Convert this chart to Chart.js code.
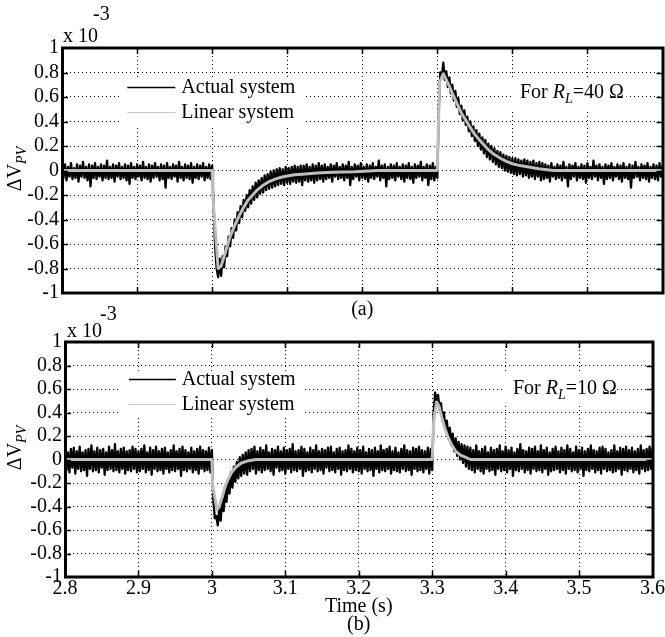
<!DOCTYPE html>
<html><head><meta charset="utf-8">
<script src="https://cdn.jsdelivr.net/npm/chart.js@4.4.1/dist/chart.umd.min.js"></script>
<style>
html,body{margin:0;padding:0;background:#fff;width:665px;height:637px;overflow:hidden;}
.p{position:absolute;left:0;width:665px;}
canvas{display:block;}
</style></head><body>
<div class="p" style="top:0;height:320px"><canvas id="ca" width="665" height="320"></canvas></div>
<div class="p" style="top:295px;height:342px"><canvas id="cb" width="665" height="342"></canvas></div>
<script>
// ---------- data (values in units of 1e-3) ----------
const seriesNames = ['Actual system', 'Linear system'];
const sampleStart = 2.8, sampleStep = 0.002;   // time grid of the measured (actual) traces

// panel (a), R_L = 40 ohm, actual system
const actualA = [
 0.04,-0.06,0.05,-0.08,0.03,-0.05,0.06,-0.07,0.02,-0.06,
 0.05,-0.09,0.04,-0.05,0.07,-0.06,0.03,-0.08,0.05,-0.13,
 0.04,-0.06,0.06,-0.07,0.03,-0.05,0.05,-0.08,0.04,-0.06,
 0.08,-0.07,0.03,-0.06,0.05,-0.09,0.04,-0.05,0.06,-0.07,
 0.03,-0.06,0.05,-0.08,0.04,-0.11,0.06,-0.06,0.03,-0.07,
 0.05,-0.05,0.04,-0.08,0.07,-0.06,0.03,-0.07,0.05,-0.09,
 0.04,-0.06,0.06,-0.05,0.03,-0.08,0.05,-0.07,0.04,-0.14,
 0.06,-0.06,0.03,-0.07,0.05,-0.05,0.04,-0.09,0.07,-0.06,
 0.03,-0.08,0.05,-0.06,0.04,-0.07,0.06,-0.10,0.03,-0.06,
 0.05,-0.07,0.04,-0.05,0.06,-0.08,0.03,-0.06,0.05,-0.07,
 0.04,
 -0.30,-0.62,-0.80,-0.87,-0.72,-0.86,-0.70,-0.79,-0.62,-0.70,
 -0.54,-0.62,-0.47,-0.55,-0.40,-0.49,-0.34,-0.43,-0.29,-0.38,
 -0.24,-0.33,-0.20,-0.30,-0.16,-0.27,-0.13,-0.24,-0.10,-0.22,
 -0.08,-0.19,-0.06,-0.18,-0.04,-0.16,-0.03,-0.15,-0.01,-0.14,
 0.00,-0.13,0.01,-0.12,0.02,-0.11,0.01,-0.12,0.03,-0.10,
 0.02,-0.11,0.03,-0.09,0.04,-0.10,0.03,-0.09,0.04,-0.12,
 0.04,-0.08,0.05,-0.09,0.03,-0.08,0.05,-0.10,0.04,-0.08,
 0.06,-0.07,0.04,-0.09,0.05,
 -0.07,0.03,-0.06,0.05,-0.09,0.04,-0.05,0.06,-0.07,0.03,
 -0.06,0.05,-0.08,0.04,-0.06,0.07,-0.12,0.03,-0.07,0.05,
 -0.05,0.04,-0.08,0.06,-0.06,0.03,-0.07,0.05,-0.09,0.04,
 -0.06,0.06,-0.07,0.03,-0.05,0.08,-0.08,0.04,-0.06,0.05,
 -0.13,0.03,-0.07,0.05,-0.06,0.04,-0.08,0.06,-0.05,0.03,
 -0.07,0.05,-0.09,0.04,-0.06,0.06,-0.07,0.03,-0.10,0.05,
 -0.06,0.04,-0.05,0.07,-0.08,0.03,-0.06,0.05,-0.12,0.04,
 -0.07,0.06,-0.08,0.03,
 -0.06,
 0.50,0.80,0.76,0.88,0.74,0.81,0.68,0.76,0.63,0.70,
 0.57,0.65,0.52,0.59,0.46,0.53,0.41,0.49,0.37,0.44,
 0.32,0.40,0.28,0.36,0.24,0.33,0.20,0.30,0.17,0.27,
 0.14,0.25,0.11,0.22,0.09,0.20,0.07,0.18,0.05,0.16,
 0.03,0.15,0.02,0.13,0.00,0.12,-0.01,0.11,-0.02,0.10,
 -0.03,0.10,-0.04,0.09,-0.03,0.08,-0.05,0.09,-0.04,0.08,
 -0.06,0.07,-0.05,0.08,-0.07,0.06,-0.05,0.07,-0.08,0.06,
 -0.07,0.05,-0.06,0.04,-0.09,0.06,-0.05,0.03,-0.07,0.05,
 -0.06,0.04,-0.08,0.07,-0.06,0.03,-0.13,0.05,-0.07,0.04,
 -0.05,0.06,-0.08,0.03,-0.06,0.05,-0.07,0.04,-0.10,0.06,
 -0.06,0.03,-0.07,0.08,-0.05,0.04,-0.08,0.05,-0.06,0.03,
 -0.11,0.05,-0.07,0.04,-0.06,0.06,-0.08,0.03,-0.05,0.05,
 -0.07,0.04,-0.09,0.06,-0.06,0.03,-0.07,0.05,-0.14,0.04,
 -0.06,0.07,-0.05,0.03,-0.08,0.05,-0.06,0.04,-0.07,0.06,
 -0.09,0.03,-0.06,0.05,-0.07,0.04,-0.08,0.06,-0.05,0.04];
// panel (a), linear system
const linearATime = [2.8,3.0,3.001,3.008,3.012,3.016,3.02,3.024,3.03,3.036,3.042,3.048,3.054,3.06,3.068,3.076,3.084,3.092,3.1,3.11,3.12,3.14,3.16,3.19,3.22,3.3,3.303,3.308,3.312,3.316,3.32,3.326,3.332,3.338,3.344,3.35,3.356,3.362,3.368,3.376,3.384,3.392,3.4,3.41,3.42,3.435,3.455,3.6];
const linearAValue = [0,0,-0.22,-0.80,-0.78,-0.70,-0.62,-0.54,-0.45,-0.37,-0.30,-0.24,-0.20,-0.16,-0.12,-0.09,-0.07,-0.055,-0.045,-0.035,-0.03,-0.02,-0.015,-0.01,0,0,0.72,0.79,0.74,0.69,0.63,0.55,0.47,0.41,0.35,0.295,0.25,0.21,0.17,0.13,0.10,0.075,0.055,0.04,0.03,0.015,0,0];

// panel (b), R_L = 10 ohm, actual system
const actualB = [
 0.08,-0.09,0.06,-0.11,0.09,-0.07,0.10,-0.12,0.07,-0.08,
 0.11,-0.10,0.06,-0.09,0.08,-0.14,0.09,-0.08,0.12,-0.10,
 0.07,-0.09,0.10,-0.11,0.08,-0.07,0.09,-0.13,0.06,-0.09,
 0.11,-0.08,0.08,-0.10,0.13,-0.09,0.07,-0.11,0.09,-0.08,
 0.10,-0.12,0.07,-0.09,0.08,-0.10,0.11,-0.08,0.09,-0.11,
 0.07,-0.10,0.09,-0.08,0.12,-0.11,0.06,-0.09,0.10,-0.13,
 0.08,-0.08,0.11,-0.10,0.07,-0.09,0.09,-0.12,0.10,-0.08,
 0.06,-0.11,0.08,-0.09,0.12,-0.10,0.07,-0.08,0.09,-0.14,
 0.11,-0.09,0.08,-0.10,0.06,-0.08,0.10,-0.11,0.07,-0.09,
 0.09,-0.12,0.11,-0.08,0.08,-0.10,0.07,-0.09,0.10,-0.11,
 0.08,
 -0.35,-0.50,-0.48,-0.56,-0.42,-0.52,-0.33,-0.44,-0.24,-0.36,
 -0.17,-0.29,-0.11,-0.24,-0.06,-0.19,-0.02,-0.16,0.02,-0.14,
 0.04,-0.12,0.06,-0.13,0.08,
 -0.10,0.09,-0.08,0.11,-0.12,0.07,-0.09,0.10,-0.11,0.08,
 -0.09,0.12,-0.08,0.06,-0.10,0.09,-0.13,0.08,-0.07,0.11,
 -0.10,0.07,-0.09,0.10,-0.12,0.08,-0.08,0.09,-0.11,0.13,
 -0.09,0.07,-0.10,0.08,-0.08,0.11,-0.14,0.09,-0.10,0.06,
 -0.09,0.10,-0.11,0.08,-0.08,0.12,-0.10,0.07,-0.09,0.09,
 -0.12,0.08,-0.07,0.10,-0.10,0.11,-0.09,0.06,-0.11,0.09,
 -0.08,0.10,-0.13,0.07,-0.09,0.08,-0.10,0.12,-0.08,0.09,
 -0.11,0.07,-0.09,0.10,-0.10,0.08,-0.12,0.11,-0.08,0.06,
 -0.10,0.09,-0.09,0.08,-0.14,0.10,-0.08,0.07,-0.11,0.12,
 -0.09,0.08,-0.10,0.09,-0.08,0.11,-0.12,0.07,-0.09,0.10,
 -0.10,0.06,-0.11,0.09,-0.08,0.12,-0.10,0.08,-0.09,0.07,
 -0.13,0.10,-0.08,0.09,-0.10,0.11,-0.09,0.08,-0.11,0.07,
 -0.08,0.10,-0.12,0.09,
 -0.09,
 0.40,0.57,0.47,0.55,0.42,0.48,0.33,0.40,0.25,0.33,
 0.18,0.27,0.12,0.22,0.07,0.18,0.03,0.15,0.00,0.13,
 -0.03,0.12,-0.06,0.11,-0.08,
 0.10,-0.09,0.08,-0.11,0.12,-0.08,0.07,-0.10,0.09,-0.12,
 0.11,-0.08,0.06,-0.10,0.10,-0.09,0.08,-0.13,0.09,-0.08,
 0.12,-0.10,0.07,-0.09,0.11,-0.11,0.08,-0.08,0.10,-0.14,
 0.06,-0.09,0.09,-0.10,0.13,-0.08,0.08,-0.11,0.07,-0.09,
 0.10,-0.12,0.09,-0.08,0.11,-0.10,0.07,-0.09,0.12,-0.11,
 0.08,-0.08,0.10,-0.13,0.06,-0.10,0.09,-0.09,0.11,-0.08,
 0.07,-0.11,0.10,-0.09,0.08,-0.12,0.12,-0.08,0.09,-0.10,
 0.06,-0.09,0.11,-0.11,0.08,-0.08,0.10,-0.14,0.07,-0.09,
 0.09,-0.10,0.12,-0.08,0.08,-0.11,0.07,-0.09,0.10,-0.12,
 0.11,-0.08,0.09,-0.10,0.06,-0.09,0.08,-0.11,0.12,-0.10,
 0.07,-0.08,0.10,-0.13,0.09,-0.09,0.11,-0.10,0.08,-0.08,
 0.10,-0.11,0.07,-0.09,0.09,-0.12,0.12,-0.08,0.08,-0.10,
 0.09,-0.09,0.11,-0.08,0.10];
// panel (b), linear system
const linearBTime = [2.8,3.0,3.001,3.007,3.01,3.014,3.018,3.022,3.027,3.032,3.04,3.05,3.06,3.3,3.302,3.306,3.309,3.313,3.317,3.321,3.326,3.332,3.338,3.345,3.352,3.6];
const linearBValue = [0,0,-0.22,-0.43,-0.40,-0.32,-0.23,-0.17,-0.11,-0.07,-0.03,-0.01,0,0,0.33,0.49,0.46,0.36,0.27,0.20,0.13,0.07,0.04,0.02,0,0];

// tick labels and texts
const yTickLabels = ['-1','-0.8','-0.6','-0.4','-0.2','0','0.2','0.4','0.6','0.8','1'];
const xTickLabels = ['2.8','2.9','3','3.1','3.2','3.3','3.4','3.5','3.6'];
const panelResistance = ['40', '10'];
const panelCaption = ['(a)', '(b)'];
const xAxisTitle = 'Time (s)';
const yTitleMain = 'ΔV', yTitleSub = 'PV';
const expBase = 'x 10', expPower = '-3';

// ---------- rendering ----------
const FONT = '"Liberation Serif", "Times New Roman", serif';
const pts = (vals) => vals.map((v, i) => ({x: +(sampleStart + sampleStep * i).toFixed(4), y: v}));
const pairs = (ts, vs) => ts.map((t, i) => ({x: t, y: vs[i]}));

const decor = {
  id: 'decor',
  afterDatasetsDraw(chart, args, o) {
    const ctx = chart.ctx, a = chart.chartArea, xs = chart.scales.x, ys = chart.scales.y;
    const X = v => xs.getPixelForValue(v), Y = v => ys.getPixelForValue(v);
    ctx.save();
    ctx.textAlign = 'left'; ctx.textBaseline = 'alphabetic';
    // legend (white box, samples and labels)
    const lb = o.legendBox;
    ctx.fillStyle = '#fff';
    ctx.fillRect(X(lb[0]), Y(lb[3]), X(lb[1]) - X(lb[0]), Y(lb[2]) - Y(lb[3]));
    o.legendRows.forEach((yv, k) => {
      const by = Math.round(Y(yv));
      ctx.strokeStyle = o.sampleColors[k]; ctx.lineWidth = o.sampleWidths[k];
      ctx.beginPath(); ctx.moveTo(X(o.sampleX[0]), by - 5.5); ctx.lineTo(X(o.sampleX[1]), by - 5.5); ctx.stroke();
      ctx.fillStyle = '#000'; ctx.font = '20px ' + FONT;
      ctx.fillText(chart.data.datasets[k].label, X(o.textX), by);
    });
    // note "For R_L = .. Ω"
    const nb = o.noteBox;
    ctx.fillStyle = '#fff';
    ctx.fillRect(X(nb[0]), Y(nb[3]), X(nb[1]) - X(nb[0]), Y(nb[2]) - Y(nb[3]));
    let nx = X(o.noteX); const ny = Math.round(Y(o.noteY));
    const parts = [['For ', '20px ', 0], ['R', 'italic 20px ', 0], ['L', 'italic 14px ', 5], ['=' + o.res + ' Ω', '20px ', 0]];
    ctx.fillStyle = '#000';
    parts.forEach(p => { ctx.font = p[1] + FONT; ctx.fillText(p[0], nx, ny + p[2]); nx += ctx.measureText(p[0]).width; });
    // frame
    ctx.strokeStyle = '#000'; ctx.lineWidth = 3;
    ctx.strokeRect(a.left + 0.5, a.top, a.right - a.left, a.bottom - a.top);
    // inner ticks on all four sides
    ctx.lineWidth = 1.5;
    xs.ticks.forEach(t => {
      if (t.value <= xs.min + 1e-9 || t.value >= xs.max - 1e-9) return;
      const px = Math.round(X(t.value)) + 0.5;
      ctx.beginPath(); ctx.moveTo(px, a.top); ctx.lineTo(px, a.top + 6);
      ctx.moveTo(px, a.bottom); ctx.lineTo(px, a.bottom - 6); ctx.stroke();
    });
    ys.ticks.forEach(t => {
      if (t.value <= ys.min + 1e-9 || t.value >= ys.max - 1e-9) return;
      const py = Math.round(Y(t.value)) + 0.5;
      ctx.beginPath(); ctx.moveTo(a.left, py); ctx.lineTo(a.left + 6, py);
      ctx.moveTo(a.right, py); ctx.lineTo(a.right - 6, py); ctx.stroke();
    });
    // exponent label "x 10^-3"
    ctx.font = '20px ' + FONT; ctx.fillStyle = '#000';
    ctx.fillText(expBase, o.expX, a.top + o.expDy);
    ctx.fillText(expPower, o.powX, a.top + o.powDy);
    // y-axis title ΔV_PV (rotated)
    ctx.save();
    ctx.translate(o.yTitleX, a.top + o.yTitleDy);
    ctx.rotate(-Math.PI / 2);
    ctx.font = '20px ' + FONT; const w1 = ctx.measureText(yTitleMain).width;
    ctx.font = 'italic 14px ' + FONT; const w2 = ctx.measureText(yTitleSub).width;
    const x0 = -(w1 + w2) / 2;
    ctx.font = '20px ' + FONT; ctx.fillText(yTitleMain, x0, 0);
    ctx.font = 'italic 14px ' + FONT; ctx.fillText(yTitleSub, x0 + w1, 5);
    ctx.restore();
    ctx.restore();
  }
};

function makeChart(id, actual, linT, linV, p) {
  return new Chart(document.getElementById(id), {
    type: 'line',
    data: {
      datasets: [
        {label: seriesNames[0], data: pts(actual), borderColor: '#000', borderWidth: 2.3,
         pointRadius: 0, tension: 0, borderJoinStyle: 'round', order: 2},
        {label: seriesNames[1], data: pairs(linT, linV), borderColor: '#bdbdbd', borderWidth: 3,
         pointRadius: 0, tension: 0, borderJoinStyle: 'round', order: 1}
      ]
    },
    options: {
      responsive: false, animation: false, events: [],
      layout: {padding: {top: p.padTop, right: p.padRight, left: 0, bottom: 0}},
      plugins: {legend: {display: false}, tooltip: {enabled: false}, decor: p.decor},
      scales: {
        x: {
          type: 'linear', min: 2.8, max: 3.6,
          afterFit: s => { s.height = p.xHeight; },
          ticks: {stepSize: 0.1, display: p.showX, autoSkip: false, color: '#000', padding: p.xTickPad, maxRotation: 0,
                  font: {family: FONT, size: 20},
                  callback: v => xTickLabels[Math.round((v - 2.8) / 0.1)]},
          grid: {color: '#000', lineWidth: 1, drawTicks: false},
          border: {display: false, dash: [1, 3]},
          title: {display: true, text: p.xTitle, color: '#000',
                  font: {family: FONT, size: 20, lineHeight: 0.9}, padding: {top: 0, bottom: p.titlePadB}}
        },
        y: {
          min: -1, max: 1,
          afterFit: s => { s.width = p.yWidth; },
          ticks: {stepSize: 0.2, autoSkip: false, color: '#000', padding: 3, font: {family: FONT, size: 20},
                  callback: v => yTickLabels[Math.round((v + 1) / 0.2)]},
          grid: {color: '#000', lineWidth: 1, drawTicks: false},
          border: {display: false, dash: [1, 3]}
        }
      }
    },
    plugins: [decor]
  });
}

const common = {
  legendBox: [2.876, 3.124, 0.37, 0.755], legendRows: [0.63, 0.425],
  sampleX: [2.887, 2.951], textX: 2.959,
  sampleColors: ['#000', '#c8c8c8'], sampleWidths: [1.5, 1.2],
  noteX: 3.41, yTitleX: 21
};

makeChart('ca', actualA, linearATime, linearAValue, {
  padTop: 48, padRight: 2.5, xHeight: 27, yWidth: 62, showX: false, xTickPad: 0,
  xTitle: panelCaption[0], titlePadB: 1,
  decor: Object.assign({}, common, {res: panelResistance[0], noteBox: [3.399, 3.552, 0.494, 0.739], noteY: 0.592,
    expX: 63, expDy: -6, powX: 93, powDy: -28, yTitleDy: 121})
});
makeChart('cb', actualB, linearBTime, linearBValue, {
  padTop: 47, padRight: 2, xHeight: 60, yWidth: 65, showX: true, xTickPad: 0,
  xTitle: [xAxisTitle, panelCaption[1]], titlePadB: 3,
  decor: Object.assign({}, common, {res: panelResistance[1], noteBox: [3.398, 3.55, 0.481, 0.745], noteY: 0.557,
    expX: 67, expDy: -5, powX: 100, powDy: -22, yTitleDy: 106})
});
</script>
</body></html>
